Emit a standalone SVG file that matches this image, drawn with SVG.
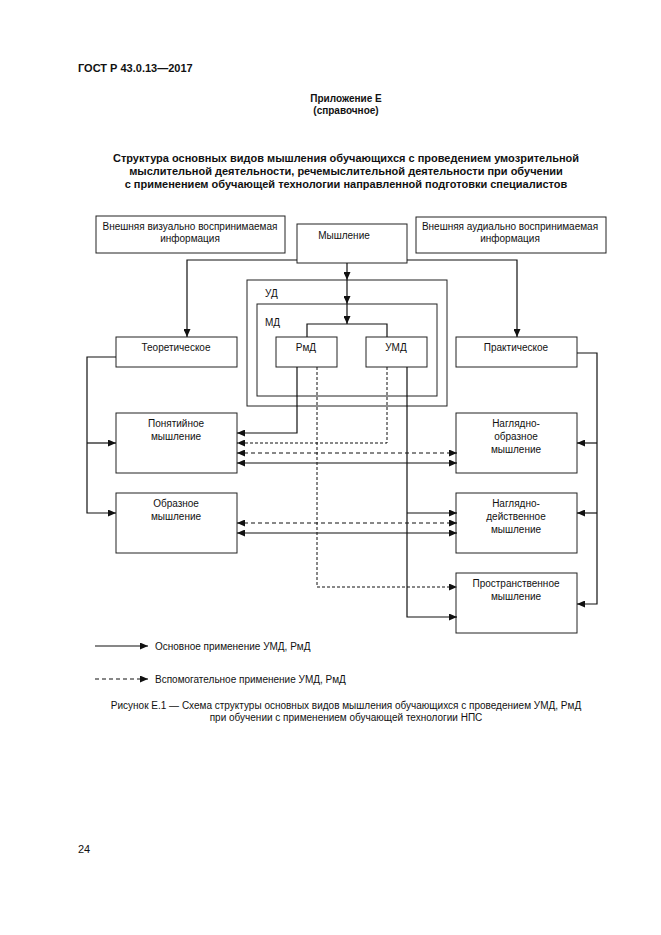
<svg xmlns="http://www.w3.org/2000/svg" width="661" height="935" viewBox="0 0 661 935">
<defs>
<marker id="ar" markerUnits="userSpaceOnUse" markerWidth="8" markerHeight="7" refX="8" refY="3.5" orient="auto-start-reverse">
<path d="M0,0 L8,3.5 L0,7 z" fill="#111"/>
</marker>
</defs>
<style>
text{font-family:"Liberation Sans",Arial,sans-serif;fill:#111;font-size:10px}
.b{font-weight:bold}
.m{text-anchor:middle}
rect{fill:#fff;stroke:#222;stroke-width:1}
.c path{fill:none;stroke:#111;stroke-width:1.2}
.c .d{stroke-dasharray:4,3}
.c .t{stroke-dasharray:3,2;stroke-width:1}
</style>
<rect x="0" y="0" width="661" height="935" style="fill:#fff;stroke:none"/>
<text class="b" x="78" y="72" style="font-size:11px">ГОСТ Р 43.0.13—2017</text>
<text class="b m" x="346" y="102">Приложение Е</text>
<text class="b m" x="346" y="114">(справочное)</text>
<text class="b m" x="346" y="162" style="font-size:11px">Структура основных видов мышления обучающихся с проведением умозрительной</text>
<text class="b m" x="346" y="175" style="font-size:11px">мыслительной деятельности, речемыслительной деятельности при обучении</text>
<text class="b m" x="346" y="188" style="font-size:11px">с применением обучающей технологии направленной подготовки специалистов</text>

<g id="n-visual"><rect x="96" y="216" width="189" height="37"/>
<text class="m" x="190" y="230">Внешняя визуально воспринимаемая</text>
<text class="m" x="190" y="242">информация</text></g>
<g id="n-thinking"><rect x="297" y="224" width="110" height="39"/>
<text class="m" x="344" y="239">Мышление</text></g>
<g id="n-audio"><rect x="416" y="217" width="190" height="36"/>
<text class="m" x="510" y="230">Внешняя аудиально воспринимаемая</text>
<text class="m" x="510" y="242">информация</text></g>
<g id="n-ud"><rect x="247" y="280" width="200" height="126"/>
<text x="265" y="297">УД</text></g>
<g id="n-md"><rect x="257" y="304" width="180" height="92"/>
<text x="265" y="326">МД</text></g>
<g id="n-rmd"><rect x="276" y="337" width="61" height="30"/>
<text class="m" x="306" y="351">РмД</text></g>
<g id="n-umd"><rect x="366" y="337" width="61" height="30"/>
<text class="m" x="396" y="351">УМД</text></g>
<g id="n-theor"><rect x="116" y="337" width="121" height="30"/>
<text class="m" x="176" y="351">Теоретическое</text></g>
<g id="n-pract"><rect x="456" y="337" width="121" height="30"/>
<text class="m" x="516" y="351">Практическое</text></g>
<g id="n-concept"><rect x="116" y="413" width="121" height="60"/>
<text class="m" x="176" y="427">Понятийное</text>
<text class="m" x="176" y="440">мышление</text></g>
<g id="n-image"><rect x="116" y="493" width="121" height="60"/>
<text class="m" x="176" y="507">Образное</text>
<text class="m" x="176" y="520">мышление</text></g>
<g id="n-visimage"><rect x="456" y="413" width="121" height="60"/>
<text class="m" x="516" y="427">Наглядно-</text>
<text class="m" x="516" y="440">образное</text>
<text class="m" x="516" y="453">мышление</text></g>
<g id="n-visact"><rect x="456" y="493" width="121" height="60"/>
<text class="m" x="516" y="507">Наглядно-</text>
<text class="m" x="516" y="520">действенное</text>
<text class="m" x="516" y="533">мышление</text></g>
<g id="n-spatial"><rect x="456" y="573" width="121" height="60"/>
<text class="m" x="516" y="587">Пространственное</text>
<text class="m" x="516" y="600">мышление</text></g>

<g id="connectors" class="c">
<path d="M297,260 H187 V337" marker-end="url(#ar)"/>
<path d="M407,260 H517 V337" marker-end="url(#ar)"/>
<path d="M347,263 V280" marker-end="url(#ar)"/>
<path d="M347,280 V304" marker-end="url(#ar)"/>
<path d="M347,304 V324" marker-end="url(#ar)"/>
<path d="M307,337 V324 H387 V337"/>
<path d="M116,357 H87 V513 H116" marker-end="url(#ar)"/>
<path d="M87,443 H116" marker-end="url(#ar)"/>
<path d="M577,353 H597 V604 H577" marker-end="url(#ar)"/>
<path d="M597,443 H577" marker-end="url(#ar)"/>
<path d="M597,513 H577" marker-end="url(#ar)"/>
<path d="M297,367 V433 H237" marker-end="url(#ar)"/>
<path class="t" d="M387,367 V443 H237" marker-end="url(#ar)"/>
<path class="d" d="M237,453 H457" marker-start="url(#ar)" marker-end="url(#ar)"/>
<path d="M237,463 H457" marker-start="url(#ar)" marker-end="url(#ar)"/>
<path class="t" d="M317,367 V587 H457" marker-end="url(#ar)"/>
<path d="M407,367 V617 H457" marker-end="url(#ar)"/>
<path d="M407,513 H457" marker-end="url(#ar)"/>
<path class="d" d="M237,523 H457" marker-start="url(#ar)" marker-end="url(#ar)"/>
<path d="M237,533 H457" marker-start="url(#ar)" marker-end="url(#ar)"/>
<path d="M95,646 H148" marker-end="url(#ar)"/>
<path class="d" d="M95,679 H148" marker-end="url(#ar)"/>
</g>
<text x="155" y="650">Основное применение УМД, РмД</text>
<text x="155" y="683">Вспомогательное применение УМД, РмД</text>
<text class="m" x="346" y="709">Рисунок  Е.1 — Схема структуры основных видов мышления обучающихся с проведением УМД, РмД</text>
<text class="m" x="346" y="721">при обучении с применением обучающей технологии НПС</text>
<text x="78" y="853" style="font-size:11px">24</text>
</svg>
